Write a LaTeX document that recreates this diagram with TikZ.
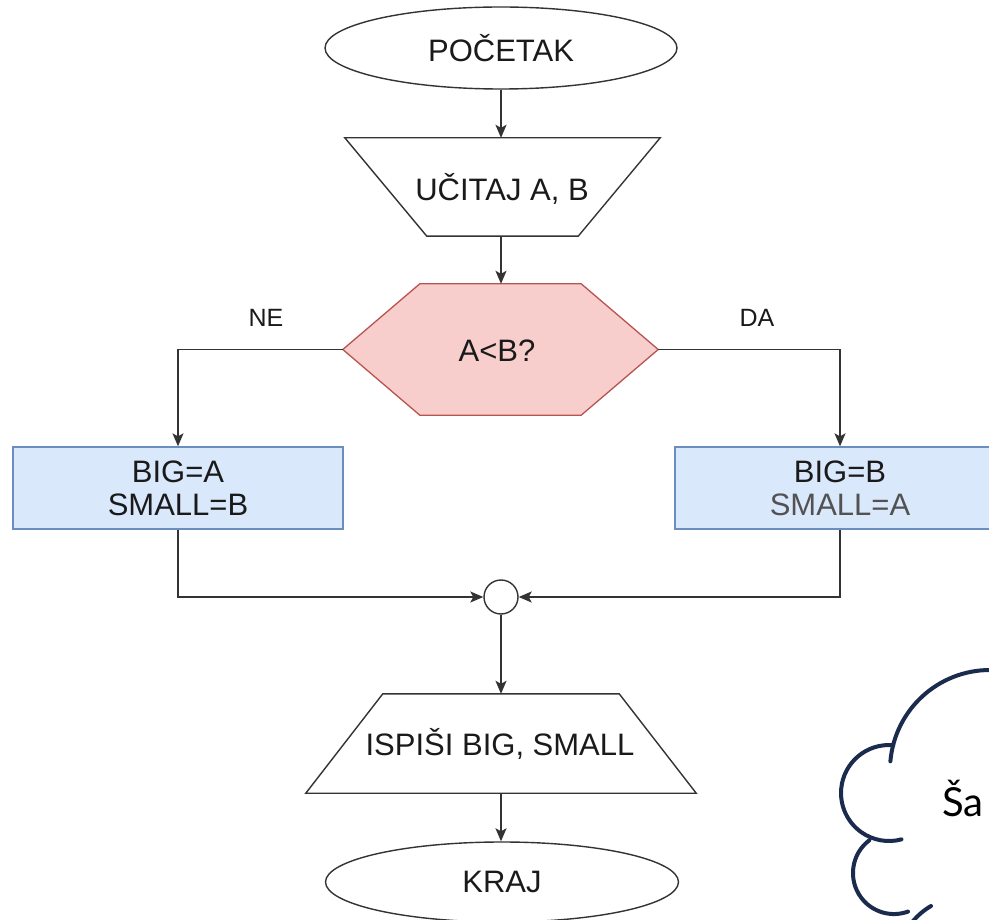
\documentclass[tikz,border=0pt]{standalone}
\usepackage{fontspec}
\setmainfont{Liberation Sans}
\newfontfamily\cloudfont{Lato}
\usetikzlibrary{shapes.geometric,arrows.meta,backgrounds}

\definecolor{inkgray}{HTML}{333333}
\definecolor{txtblack}{HTML}{1A1A1A}
\definecolor{decfill}{HTML}{F8CECC}
\definecolor{decline}{HTML}{B85450}
\definecolor{procfill}{HTML}{DAE8FC}
\definecolor{procline}{HTML}{6C8EBF}
\definecolor{cloudnavy}{RGB}{27,43,78}

\tikzset{
  lbl/.style={font=\fontsize{31}{33}\selectfont, text=txtblack, inner sep=0pt, align=center},
  small lbl/.style={font=\fontsize{25}{28}\selectfont, text=txtblack, inner sep=0pt},
  terminal/.style={lbl, ellipse, draw=inkgray, line width=1.4pt, fill=white},
  framebox/.style={lbl, rectangle},
  procbox/.style={lbl, rectangle, draw=procline, fill=procfill, line width=1.3pt,
                  minimum width=330pt, minimum height=82pt},
  joint/.style={circle, draw=inkgray, line width=1.4pt, fill=white, minimum size=34pt, inner sep=0pt},
  outline/.style={draw=inkgray, line width=1.4pt, line join=miter},
  flow/.style={draw=inkgray, line width=1.6pt, -{Stealth[length=13pt,width=11pt,inset=3pt]}},
  cloudline/.style={draw=cloudnavy, line width=4pt, line cap=round}
}

\begin{document}
\begin{tikzpicture}[x=1pt, y=-1pt]
\useasboundingbox (0,0) rectangle (989,920);
\clip (0,0) rectangle (989,920);

% start / end terminals
\node[terminal, minimum width=352pt, minimum height=82pt] (start) at (501,48) {POČETAK};

% input (wide at the top)
\node[framebox, minimum width=315pt, minimum height=98pt] (read) at (502.5,187) {};
\draw[outline] (read.north west) -- (read.north east)
  -- ([xshift=-82pt]read.south east) -- ([xshift=82pt]read.south west) -- cycle;
\node[lbl] (readtxt) at (502,189) {UČITAJ A, B};

% decision hexagon
\node[framebox, minimum width=315pt, minimum height=131pt] (cmp) at (500.5,349.5) {};
\begin{pgfonlayer}{background}
\fill[white] (0,0) rectangle (989,920);
\filldraw[fill=decfill, draw=decline, line width=1.3pt]
  (cmp.west) -- ([xshift=77pt]cmp.north west) -- ([xshift=-77pt]cmp.north east)
  -- (cmp.east) -- ([xshift=-77pt]cmp.south east) -- ([xshift=77pt]cmp.south west) -- cycle;
\end{pgfonlayer}
\node[lbl] (cmptxt) at (497,351) {A<B?};

\node[small lbl] (no) at (266,318) {NE};
\node[small lbl] (yes) at (757,318) {DA};

% the two branches
\node[procbox] (lbox) at (178,488) {BIG=A\\SMALL=B};
\node[procbox] (rbox) at (840,488) {BIG=B\\\textcolor{inkgray!85}{SMALL=A}};

% merge point
\node[joint] (join) at (501,597) {};

% output (wide at the bottom)
\node[framebox, minimum width=390pt, minimum height=99pt] (write) at (501,743.5) {};
\draw[outline] ([xshift=77pt]write.north west) -- ([xshift=-77pt]write.north east)
  -- (write.south east) -- (write.south west) -- cycle;
\node[lbl] (writetxt) at (500,744) {ISPIŠI BIG, SMALL};

\node[terminal, minimum width=353pt, minimum height=80pt] (end) at (502,882) {KRAJ};

% connectors
\draw[flow] (start.south) -- (start.south |- read.north);
\draw[flow] (read.south -| start.south) -- (start.south |- cmp.north);
\draw[flow] (cmp.west) -| (lbox.north);
\draw[flow] (cmp.east) -| (rbox.north);
\draw[flow] (lbox.south) |- (join.west);
\draw[flow] (rbox.south) |- (join.east);
\draw[flow] (join.south) -- (join.south |- write.north);
\draw[flow] (write.south -| join.south) -- (join.south |- end.north);

% thought cloud at the lower right
\draw[cloudline] (990,670) arc[start angle=-90, end angle=-175, radius=100];
\draw[cloudline] (893.2,745.2) arc[start angle=-85, end angle=-285, radius=48];
\draw[cloudline] (869.3,840.3) arc[start angle=233, end angle=70, radius=41];
\draw[cloudline] (931,906) arc[start angle=-120, end angle=-160, radius=68];
\node[font=\cloudfont\fontsize{40}{44}\selectfont, text=black, anchor=base, inner sep=0pt] (sa) at (963,816) {Ša};
\end{tikzpicture}
\end{document}
